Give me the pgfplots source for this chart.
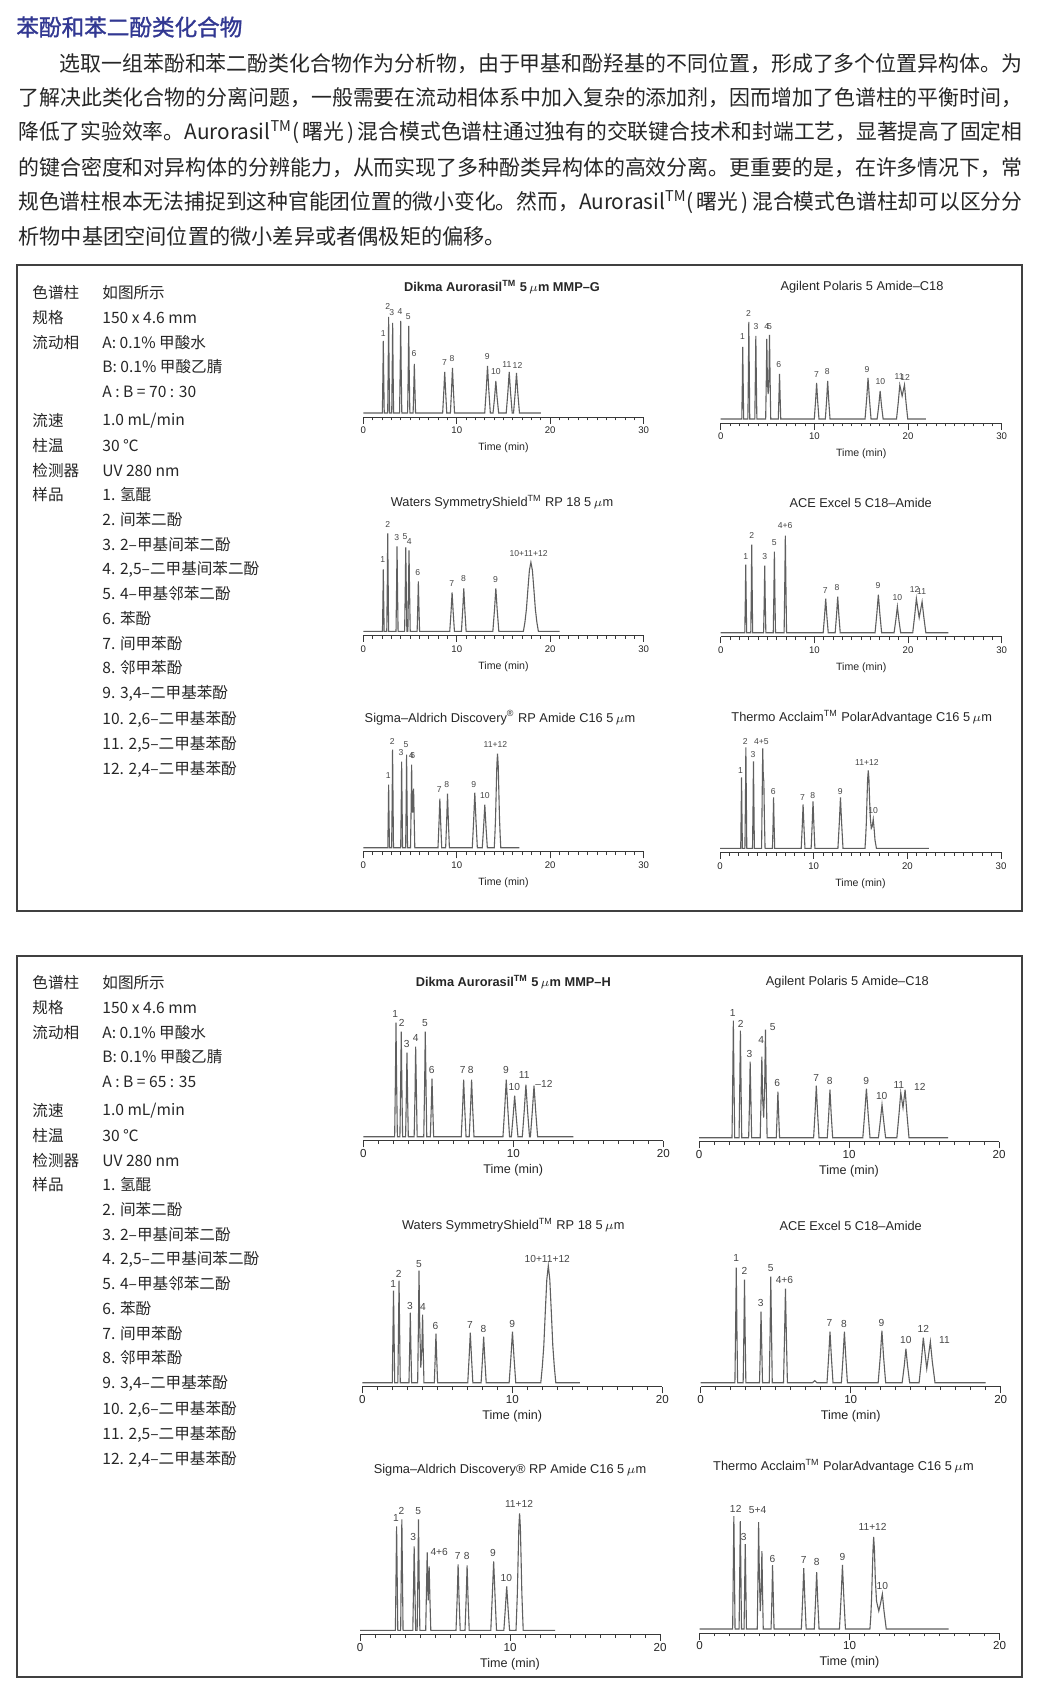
\documentclass[border=0pt]{standalone}
\usepackage{fontspec}
\usepackage{graphicx}
\usepackage{pgfplots}
\pgfplotsset{compat=1.18}
\setmainfont{Liberation Sans}
\newfontfamily\cjk{Noto Sans CJK SC}
\newfontfamily\cjkb[FakeBold=1.3]{Noto Sans CJK SC}
\definecolor{ttl}{RGB}{50,56,146}
\definecolor{txt}{RGB}{38,38,38}
\definecolor{trc}{RGB}{95,95,95}
\pgfplotsset{
  chrom/.style={anchor=south west, scale only axis, height=65pt, ymin=-4, ymax=126, clip=false,
    axis x line*=bottom, axis y line=none,
    axis line style={-, draw=black!78, line width=0.5pt},
    tick align=outside, major tick length=3.3pt, minor tick length=1.7pt,
    tick style={black!78, line width=0.45pt},
    minor x tick num=9,
    /pgf/number format/assume math mode=true,
    xlabel={Time (min)},
    xlabel style={at={(axis description cs:0.5,0)}, anchor=center, text=txt},
    xticklabel style={inner sep=0pt, text=txt},
  },
  pa/.style={chrom, width=140.2pt, xmin=0, xmax=30, xtick={0,10,20,30},
    xticklabel style={font=\fontsize{4.8}{5}\selectfont, yshift=-1.6pt},
    xlabel style={font=\fontsize{5.3}{6}\selectfont, yshift=-15.5pt}},
  pb/.style={chrom, width=150pt, xmin=0, xmax=20, xtick={0,10,20},
    xticklabel style={font=\fontsize{5.8}{6}\selectfont, yshift=-0.9pt},
    xlabel style={font=\fontsize{6.3}{7}\selectfont, yshift=-14.8pt}},
  tr/.style={draw=trc, line width=0.55pt, mark=none},
}
\newcommand{\la}[3]{\node[font=\fontsize{4.3}{5}\selectfont, text=black!72, inner sep=0pt] at (axis cs:#1,#2) {#3};}
\newcommand{\lb}[3]{\node[font=\fontsize{5.1}{6}\selectfont, text=black!72, inner sep=0pt] at (axis cs:#1,#2) {#3};}
\newcommand{\pline}[4]{\node[anchor=west,inner sep=0pt,text=txt,font=\cjk\fontsize{10.6}{12}\selectfont] at (#1,#2) {\resizebox{#3}{\height}{#4}};}
\newcommand{\lrow}[3]{\node[lt] at (32,#1) {#2}; \node[lt] at (102,#1) {#3};}
\newcommand{\leftcol}[1]{%
\lrow{293}{色谱柱}{如图所示}
\lrow{318}{规格}{150 x 4.6 mm}
\lrow{343}{流动相}{A: 0.1\% 甲酸水}
\lrow{367}{}{B: 0.1\% 甲酸乙腈}
\lrow{392}{}{A : B = #1}
\lrow{421}{流速}{1.0 mL/min}
\lrow{446}{柱温}{30 ℃}
\lrow{471}{检测器}{UV 280 nm}
\lrow{495}{样品}{1. 氢醌}
\lrow{520}{}{2. 间苯二酚}
\lrow{545}{}{3. 2–甲基间苯二酚}
\lrow{569}{}{4. 2,5–二甲基间苯二酚}
\lrow{594}{}{5. 4–甲基邻苯二酚}
\lrow{619}{}{6. 苯酚}
\lrow{644}{}{7. 间甲苯酚}
\lrow{668}{}{8. 邻甲苯酚}
\lrow{693}{}{9. 3,4–二甲基苯酚}
\lrow{719}{}{10. 2,6–二甲基苯酚}
\lrow{744}{}{11. 2,5–二甲基苯酚}
\lrow{769}{}{12. 2,4–二甲基苯酚}}
\begin{document}
\begin{tikzpicture}
\useasboundingbox (0,0) rectangle (519pt,-842.5pt);
\fill[white] (0,0) rectangle (519pt,-842.5pt);
\begin{scope}[x=0.5pt,y=-0.5pt, lt/.style={anchor=west,inner sep=0pt,text=txt,font=\cjk\fontsize{7.8}{9}\selectfont},
  ct/.style={inner sep=0pt,text=txt,font=\fontsize{6.4}{7}\selectfont}]
\node[anchor=west,inner sep=0pt,text=ttl,font=\cjkb\fontsize{11.3}{13}\selectfont] at (16,27) {苯酚和苯二酚类化合物};
\pline{59}{63.4}{481.5pt}{选取一组苯酚和苯二酚类化合物作为分析物，由于甲基和酚羟基的不同位置，形成了多个位置异构体。为}
\pline{18}{97.8}{502pt}{了解决此类化合物的分离问题，一般需要在流动相体系中加入复杂的添加剂，因而增加了色谱柱的平衡时间，}
\pline{18}{132.2}{502pt}{降低了实验效率。Aurorasil\textsuperscript{TM}(\,曙光\,)\,混合模式色谱柱通过独有的交联键合技术和封端工艺，显著提高了固定相}
\pline{18}{167.6}{502pt}{的键合密度和对异构体的分辨能力，从而实现了多种酚类异构体的高效分离。更重要的是，在许多情况下，常}
\pline{18}{202}{502pt}{规色谱柱根本无法捕捉到这种官能团位置的微小变化。然而，Aurorasil\textsuperscript{TM}(\,曙光\,)\,混合模式色谱柱却可以区分分}
\node[anchor=west,inner sep=0pt,text=txt,font=\cjk\fontsize{10.6}{12}\selectfont] at (18,236.4) {析物中基团空间位置的微小差异或者偶极矩的偏移。};
\draw[black!75, line width=0.75pt] (17,265) rectangle (1022,911);
\draw[black!75, line width=0.75pt] (17,956) rectangle (1022,1677);
\leftcol{70 : 30}
\begin{scope}[yshift=-345pt]
\leftcol{65 : 35}
\end{scope}
\node[ct] at (502,287) {\bfseries Dikma Aurorasil\textsuperscript{TM} 5\,$\mu$m MMP–G};
\node[ct] at (862,287) {Agilent Polaris 5 Amide–C18};
\node[ct] at (502,502.7) {Waters SymmetryShield\textsuperscript{TM} RP 18 5\,$\mu$m};
\node[ct] at (860.7,502.7) {ACE Excel 5 C18–Amide};
\node[ct] at (500,717.7) {Sigma–Aldrich Discovery\textsuperscript{®} RP Amide C16 5\,$\mu$m};
\node[ct] at (861.7,717.7) {Thermo Acclaim\textsuperscript{TM} PolarAdvantage C16 5\,$\mu$m};
\node[ct] at (513.3,981.7) {\bfseries Dikma Aurorasil\textsuperscript{TM} 5\,$\mu$m MMP–H};
\node[ct] at (847.3,981.7) {Agilent Polaris 5 Amide–C18};
\node[ct] at (513.3,1225.7) {Waters SymmetryShield\textsuperscript{TM} RP 18 5\,$\mu$m};
\node[ct] at (850.7,1225.7) {ACE Excel 5 C18–Amide};
\node[ct] at (510,1470) {Sigma–Aldrich Discovery® RP Amide C16 5\,$\mu$m};
\node[ct] at (843.5,1466.7) {Thermo Acclaim\textsuperscript{TM} PolarAdvantage C16 5\,$\mu$m};
\end{scope}

% ---------- Panel 1 ----------
\begin{axis}[pa, at={(181.65pt,-208.5pt)}]
\addplot[tr] coordinates {(0,0)(2.04,0)(2.095,36)(2.14,72)(2.185,36)(2.24,0)(2.61,0)(2.665,48)(2.71,96)(2.755,48)(2.81,0)(3.04,0)(3.095,45)(3.14,90)(3.185,45)(3.24,0)(3.88,0)(3.95,46)(4.0,92)(4.05,46)(4.12,0)(4.74,0)(4.81,43)(4.86,87)(4.91,43)(4.98,0)(5.33,0)(5.4,25)(5.46,49)(5.52,25)(5.59,0)(8.49,0)(8.61,21)(8.71,41)(8.81,21)(8.93,0)(9.32,0)(9.44,23)(9.54,45)(9.64,23)(9.76,0)(12.99,0)(13.16,24)(13.29,47)(13.42,24)(13.59,0)(13.88,0)(14.05,16)(14.18,32)(14.31,16)(14.48,0)(15.29,0)(15.47,21)(15.61,41)(15.75,21)(15.93,0)(16.07,0)(16.25,20)(16.39,40)(16.53,20)(16.71,0)(19,0)};
\la{2.14}{79}{1}\la{2.61}{107}{2}\la{3.04}{100}{3}\la{3.93}{101}{4}\la{4.82}{96}{5}\la{5.43}{59}{6}
\la{8.68}{50}{7}\la{9.5}{54}{8}\la{13.25}{56}{9}\la{14.18}{41}{10}\la{15.36}{48}{11}\la{16.5}{48}{12}
\end{axis}

\begin{axis}[pa, width=140.5pt, at={(360.35pt,-211.5pt)}]
\addplot[tr] coordinates {(0,0)(2.25,0)(2.31,36)(2.35,72)(2.4,36)(2.45,0)(2.9,0)(2.96,49)(3.0,97)(3.05,49)(3.1,0)(3.64,0)(3.7,42)(3.75,83)(3.8,42)(3.86,0)(4.8,0)(4.87,40)(4.92,80)(4.98,40)(5.065,25)(5.15,42)(5.21,84)(5.27,42)(5.34,0)(6.15,0)(6.22,23)(6.28,45)(6.34,23)(6.41,0)(9.99,0)(10.13,18)(10.24,36)(10.35,18)(10.49,0)(11.17,0)(11.31,19)(11.42,38)(11.53,19)(11.67,0)(15.41,0)(15.59,21)(15.73,41)(15.87,21)(16.05,0)(16.7,0)(16.88,14)(17.02,28)(17.16,14)(17.34,0)(18.77,0)(18.96,17)(19.12,34)(19.37,23)(19.62,34)(19.78,17)(19.97,0)(21.9,0)};
\la{2.32}{82}{1}\la{2.96}{106}{2}\la{3.78}{92}{3}\la{4.92}{92}{4}\la{5.21}{92}{5}\la{6.21}{54}{6}
\la{10.24}{44}{7}\la{11.38}{47}{8}\la{15.63}{49}{9}\la{17.05}{37}{10}\la{19.05}{42}{11}\la{19.7}{42}{12}
\end{axis}

\begin{axis}[pa, at={(181.65pt,-317.65pt)}]
\addplot[tr] coordinates {(0,0)(2.05,0)(2.1,31)(2.14,62)(2.18,31)(2.23,0)(2.51,0)(2.57,49)(2.61,98)(2.66,49)(2.71,0)(3.5,0)(3.56,43)(3.61,85)(3.66,43)(3.72,0)(4.42,0)(4.49,42)(4.54,84)(4.6,42)(4.66,0)(4.77,0)(4.83,41)(4.89,81)(4.95,41)(5.02,0)(5.76,0)(5.83,25)(5.89,50)(5.95,25)(6.02,0)(9.25,0)(9.39,20)(9.5,39)(9.61,20)(9.75,0)(10.5,0)(10.64,22)(10.75,43)(10.86,22)(11.0,0)(13.86,0)(14.04,22)(14.18,43)(14.32,22)(14.5,0)(17.13,0)(17.29,9)(17.45,22)(17.61,42)(17.77,61)(17.93,69)(18.09,61)(18.25,42)(18.41,22)(18.57,9)(18.73,0)(21,0)};
\la{2.07}{72}{1}\la{2.61}{107}{2}\la{3.57}{94}{3}\la{4.46}{95}{5}\la{4.93}{90}{4}\la{5.82}{59}{6}
\la{9.46}{48}{7}\la{10.71}{53}{8}\la{14.14}{52}{9}\la{17.68}{78}{10+11+12}
\end{axis}

\begin{axis}[pa, width=140.5pt, at={(360.35pt,-318.35pt)}]
\addplot[tr] coordinates {(0,0)(2.57,0)(2.63,34)(2.67,68)(2.72,34)(2.77,0)(3.21,0)(3.27,44)(3.31,88)(3.36,44)(3.41,0)(4.58,0)(4.65,34)(4.7,67)(4.75,34)(4.82,0)(5.61,0)(5.68,41)(5.73,81)(5.78,41)(5.85,0)(6.77,0)(6.84,49)(6.9,97)(6.96,49)(7.03,0)(10.94,0)(11.09,17)(11.21,34)(11.33,17)(11.48,0)(12.22,0)(12.37,18)(12.49,36)(12.61,18)(12.76,0)(16.48,0)(16.67,19)(16.83,38)(16.99,19)(17.18,0)(18.51,0)(18.7,13)(18.86,26)(19.02,13)(19.21,0)(20.5,0)(20.71,17)(20.89,34)(21.19,15)(21.5,31)(21.68,16)(21.9,0)(24.3,0)};
\la{2.67}{76}{1}\la{3.31}{97}{2}\la{4.7}{76}{3}\la{5.73}{90}{5}\la{6.87}{107}{4+6}
\la{11.17}{42}{7}\la{12.42}{45}{8}\la{16.8}{47}{9}\la{18.86}{35}{10}\la{20.7}{43}{12}\la{21.45}{41}{11}
\end{axis}

\begin{axis}[pa, at={(181.65pt,-425.85pt)}]
\addplot[tr] coordinates {(0,0)(2.62,0)(2.67,32)(2.71,63)(2.75,32)(2.8,0)(3.03,0)(3.09,49)(3.13,98)(3.18,49)(3.23,0)(4.0,0)(4.06,43)(4.1,86)(4.15,43)(4.2,0)(4.53,0)(4.59,47)(4.63,93)(4.68,47)(4.73,0)(5.05,0)(5.12,42)(5.17,83)(5.22,45)(5.27,35)(5.33,45)(5.38,59)(5.44,30)(5.51,0)(7.99,0)(8.1,25)(8.19,49)(8.28,25)(8.39,0)(8.81,0)(8.92,27)(9.01,54)(9.1,27)(9.21,0)(11.66,0)(11.81,28)(11.93,55)(12.05,28)(12.2,0)(12.73,0)(12.88,22)(13.0,43)(13.12,22)(13.27,0)(14.01,0)(14.08,13)(14.15,30)(14.22,57)(14.29,83)(14.36,94)(14.43,83)(14.5,57)(14.57,30)(14.64,13)(14.71,0)(16.7,0)};
\la{2.67}{72}{1}\la{3.1}{106}{2}\la{4.03}{95}{3}\la{4.56}{103}{5}\la{5.12}{92}{4}\la{5.3}{92}{6}
\la{8.12}{58}{7}\la{8.94}{63}{8}\la{11.83}{63}{9}\la{13.0}{52}{10}\la{14.14}{103}{11+12}
\end{axis}

\begin{axis}[pa, width=140.5pt, at={(360pt,-426.15pt)}]
\addplot[tr] coordinates {(0,0)(2.21,0)(2.26,36)(2.3,71)(2.34,36)(2.39,0)(2.66,0)(2.72,51)(2.76,101)(2.81,51)(2.86,0)(3.47,0)(3.53,44)(3.57,87)(3.62,44)(3.67,0)(4.44,0)(4.5,50)(4.56,100)(4.62,72)(4.68,67)(4.74,30)(4.81,0)(5.6,0)(5.67,26)(5.72,51)(5.77,26)(5.84,0)(8.67,0)(8.78,22)(8.87,44)(8.96,22)(9.07,0)(9.73,0)(9.84,24)(9.93,47)(10.02,24)(10.13,0)(12.59,0)(12.74,26)(12.86,51)(12.98,26)(13.13,0)(15.48,0)(15.55,11)(15.62,25)(15.69,48)(15.76,69)(15.83,78)(15.9,69)(15.97,48)(16.05,30)(16.15,20)(16.25,22)(16.36,29)(16.45,20)(16.55,8)(16.7,0)(22.3,0)};
\la{2.19}{78}{1}\la{2.69}{107}{2}\la{3.53}{94}{3}\la{4.42}{107}{4+5}\la{5.69}{57}{6}
\la{8.8}{51}{7}\la{9.89}{53}{8}\la{12.83}{57}{9}\la{15.69}{86}{11+12}\la{16.36}{38}{10}
\end{axis}

% ---------- Panel 2 ----------
\begin{axis}[pb, at={(181.65pt,-570.35pt)}]
\addplot[tr] coordinates {(0,0)(2.09,0)(2.14,57)(2.18,114)(2.22,57)(2.27,0)(2.44,0)(2.49,53)(2.53,105)(2.57,53)(2.62,0)(2.82,0)(2.87,42)(2.91,84)(2.95,42)(3.0,0)(3.39,0)(3.45,45)(3.49,90)(3.54,45)(3.59,0)(4.03,0)(4.09,53)(4.13,105)(4.18,53)(4.23,0)(4.47,0)(4.53,29)(4.58,58)(4.63,29)(4.69,0)(6.53,0)(6.62,29)(6.69,57)(6.76,29)(6.85,0)(7.06,0)(7.15,29)(7.22,57)(7.29,29)(7.38,0)(9.31,0)(9.43,29)(9.53,57)(9.63,29)(9.75,0)(9.87,0)(9.99,21)(10.09,41)(10.19,21)(10.31,0)(10.6,0)(10.73,26)(10.84,52)(10.95,26)(11.08,0)(11.14,0)(11.27,26)(11.38,51)(11.49,26)(11.62,0)(14,0)};
\lb{2.13}{123}{1}\lb{2.56}{114}{2}\lb{2.89}{93}{3}\lb{3.49}{99}{4}\lb{4.11}{114}{5}\lb{4.56}{67}{6}
\lb{6.62}{67}{7}\lb{7.16}{67}{8}\lb{9.51}{67}{9}\lb{10.07}{50}{10}\lb{10.73}{62}{11}
\node[font=\fontsize{5.1}{6}\selectfont, text=black!72, inner sep=0pt, anchor=west] at (axis cs:11.45,53) {–12};
\end{axis}

\begin{axis}[pb, at={(349.5pt,-570.85pt)}]
\addplot[tr] coordinates {(0,0)(2.2,0)(2.25,59)(2.29,117)(2.33,59)(2.38,0)(2.67,0)(2.72,54)(2.76,107)(2.8,54)(2.85,0)(3.31,0)(3.37,38)(3.41,76)(3.46,38)(3.51,0)(4.08,0)(4.14,41)(4.19,81)(4.24,40)(4.31,20)(4.38,54)(4.43,108)(4.48,54)(4.54,0)(5.15,0)(5.21,23)(5.26,46)(5.31,23)(5.37,0)(7.64,0)(7.74,26)(7.82,52)(7.9,26)(8.0,0)(8.55,0)(8.65,24)(8.73,48)(8.81,24)(8.91,0)(10.92,0)(11.05,25)(11.16,49)(11.27,25)(11.4,0)(11.96,0)(12.09,17)(12.2,33)(12.31,17)(12.44,0)(13.19,0)(13.33,23)(13.45,45)(13.6,30)(13.74,48)(13.86,24)(14.0,0)(16.6,0)};
\lb{2.25}{125}{1}\lb{2.78}{114}{2}\lb{3.36}{84}{3}\lb{4.14}{98}{4}\lb{4.92}{111}{5}\lb{5.21}{55}{6}
\lb{7.82}{60}{7}\lb{8.71}{57}{8}\lb{11.14}{57}{9}\lb{12.18}{42}{10}\lb{13.32}{53}{11}\lb{14.72}{51}{12}
\end{axis}

\begin{axis}[pb, at={(181.15pt,-693.35pt)}]
\addplot[tr] coordinates {(0,0)(2.0,0)(2.04,46)(2.08,92)(2.12,46)(2.16,0)(2.37,0)(2.41,51)(2.45,102)(2.49,51)(2.53,0)(3.11,0)(3.16,35)(3.2,70)(3.24,35)(3.29,0)(3.69,0)(3.74,56)(3.78,112)(3.83,56)(3.9,15)(3.97,34)(4.02,68)(4.06,34)(4.11,0)(4.8,0)(4.86,25)(4.91,49)(4.96,25)(5.02,0)(7.03,0)(7.12,25)(7.2,50)(7.28,25)(7.37,0)(7.92,0)(8.01,23)(8.09,46)(8.17,23)(8.26,0)(9.79,0)(9.91,26)(10.01,51)(10.11,26)(10.23,0)(11.9,0)(12.0,16)(12.1,37)(12.2,71)(12.3,103)(12.4,117)(12.5,103)(12.6,71)(12.7,37)(12.8,16)(12.9,0)(14.5,0)};
\lb{2.06}{99}{1}\lb{2.43}{109}{2}\lb{3.18}{77}{3}\lb{3.78}{119}{5}\lb{4.04}{76}{4}\lb{4.88}{57}{6}
\lb{7.18}{58}{7}\lb{8.07}{54}{8}\lb{9.99}{59}{9}\lb{12.33}{124}{10+11+12}
\end{axis}

\begin{axis}[pb, at={(350.35pt,-693.35pt)}]
\addplot[tr] coordinates {(0,0)(2.28,0)(2.33,58)(2.37,115)(2.41,58)(2.46,0)(2.83,0)(2.88,52)(2.92,103)(2.96,52)(3.01,0)(3.92,0)(3.98,36)(4.02,71)(4.07,36)(4.12,0)(4.57,0)(4.63,53)(4.67,106)(4.72,53)(4.77,0)(5.52,0)(5.59,47)(5.65,94)(5.71,47)(5.78,0)(7.45,0)(7.6,2)(7.75,0)(8.42,0)(8.53,26)(8.62,51)(8.71,26)(8.82,0)(9.38,0)(9.49,26)(9.58,51)(9.67,26)(9.78,0)(11.83,0)(11.97,26)(12.08,52)(12.19,26)(12.33,0)(13.43,0)(13.57,17)(13.68,34)(13.79,17)(13.93,0)(14.56,0)(14.72,23)(14.84,45)(15.07,14)(15.31,41)(15.44,21)(15.62,0)(19,0)};
\lb{2.37}{125}{1}\lb{2.92}{112}{2}\lb{4.0}{80}{3}\lb{4.67}{115}{5}\lb{5.58}{103}{4+6}
\lb{8.59}{60}{7}\lb{9.55}{59}{8}\lb{12.05}{60}{9}\lb{13.68}{43}{10}\lb{14.84}{54}{12}\lb{16.25}{43}{11}
\end{axis}

\begin{axis}[pb, at={(180pt,-817.15pt)}]
\addplot[tr] coordinates {(0,0)(2.36,0)(2.4,52)(2.44,104)(2.48,52)(2.52,0)(2.71,0)(2.75,56)(2.79,111)(2.83,56)(2.87,0)(3.52,0)(3.57,42)(3.61,84)(3.66,42)(3.71,0)(3.81,0)(3.86,56)(3.9,111)(3.94,56)(3.99,0)(4.38,0)(4.43,39)(4.48,78)(4.52,40)(4.55,30)(4.58,45)(4.61,64)(4.66,32)(4.72,0)(6.4,0)(6.48,33)(6.54,66)(6.6,33)(6.68,0)(7.0,0)(7.08,33)(7.14,65)(7.2,33)(7.28,0)(8.72,0)(8.82,35)(8.91,69)(9.0,35)(9.1,0)(9.59,0)(9.69,22)(9.78,44)(9.87,22)(9.97,0)(10.4,0)(10.44,16)(10.49,37)(10.54,71)(10.59,103)(10.64,117)(10.69,103)(10.74,71)(10.79,37)(10.84,16)(10.88,0)(13,0)};
\lb{2.39}{112}{1}\lb{2.77}{119}{2}\lb{3.55}{93}{3}\lb{3.88}{119}{5}\lb{5.28}{78}{4+6}
\lb{6.52}{74}{7}\lb{7.12}{74}{8}\lb{8.87}{77}{9}\lb{9.76}{52}{10}\lb{10.6}{126}{11+12}
\end{axis}

\begin{axis}[pb, at={(349.75pt,-816.5pt)}]
\addplot[tr] coordinates {(0,0)(2.21,0)(2.25,57)(2.29,113)(2.33,57)(2.37,0)(2.64,0)(2.68,54)(2.72,108)(2.76,54)(2.8,0)(2.97,0)(3.01,43)(3.05,85)(3.09,43)(3.13,0)(3.85,0)(3.9,54)(3.94,107)(3.99,54)(4.05,18)(4.11,39)(4.16,78)(4.2,39)(4.25,0)(4.77,0)(4.83,32)(4.87,64)(4.92,32)(4.97,0)(6.79,0)(6.88,31)(6.95,61)(7.02,31)(7.11,0)(7.65,0)(7.74,29)(7.81,57)(7.88,29)(7.97,0)(9.33,0)(9.44,32)(9.53,64)(9.62,32)(9.73,0)(11.36,0)(11.42,13)(11.47,30)(11.52,56)(11.57,80)(11.61,92)(11.66,80)(11.72,50)(11.8,28)(11.95,18)(12.06,25)(12.19,35)(12.3,18)(12.45,0)(16.6,0)};
\lb{2.22}{120}{1}\lb{2.62}{120}{2}\lb{2.94}{92}{3}\lb{3.87}{119}{5+4}\lb{4.87}{70}{6}
\lb{6.95}{69}{7}\lb{7.81}{67}{8}\lb{9.53}{72}{9}\lb{11.54}{102}{11+12}\lb{12.19}{43}{10}
\end{axis}
\end{tikzpicture}
\end{document}
